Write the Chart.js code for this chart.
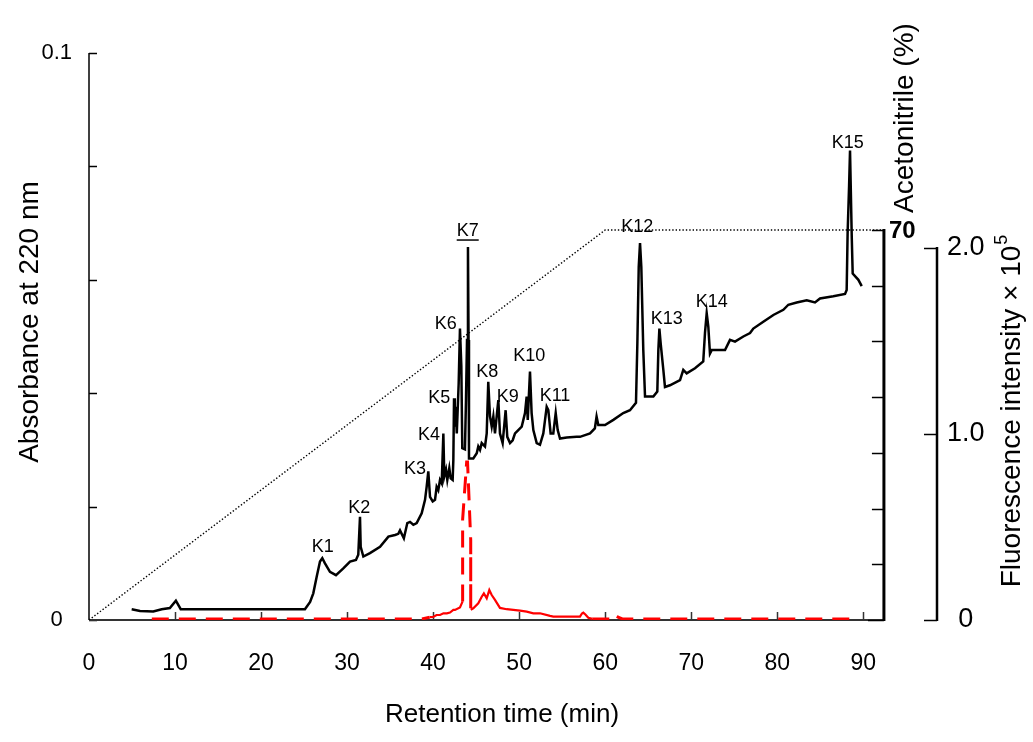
<!DOCTYPE html>
<html>
<head>
<meta charset="utf-8">
<script src="https://cdn.jsdelivr.net/npm/chart.js@4.4.0/dist/chart.umd.min.js"></script>
<style>
  html, body { margin: 0; padding: 0; background: #ffffff; }
  #wrap { width: 1033px; height: 742px; }
</style>
</head>
<body>
<div id="wrap"><canvas id="c" width="1033" height="742"></canvas></div>
<script>
// ---------- DATA ----------
// Absorbance at 220 nm (black trace)
const absTime = [4.96,5.93,7.47,8.45,9.4,10.1,10.66,25.1,25.7,26.07,26.46,26.85,27.12,27.43,28.01,28.71,29.56,30.34,31.03,31.3,31.5,31.58,31.89,32.66,33.83,34.8,35.57,35.95,36.15,36.6,37.0,37.31,37.7,38.09,38.67,39.06,39.25,39.44,39.64,39.95,40.22,40.41,40.6,40.8,41.0,41.19,41.3,41.5,41.65,41.88,42.04,42.27,42.35,42.43,42.52,42.62,42.75,42.97,43.12,43.28,43.39,43.7,43.82,43.94,44.05,44.12,44.17,44.67,45.07,45.25,45.45,45.65,46.03,46.23,46.41,46.61,46.81,47.0,47.19,47.39,47.58,47.77,48.08,48.43,48.62,48.94,49.25,49.52,49.9,50.3,50.68,50.87,51.0,51.26,51.45,51.65,52.04,52.42,52.81,53.2,53.39,53.66,53.97,54.25,54.48,54.75,55.53,56.68,57.07,58.24,58.8,59.0,59.2,59.98,60.95,62.1,62.88,63.58,63.74,63.9,64.05,64.2,64.43,64.63,65.6,66.06,66.18,66.3,66.45,66.76,66.95,67.53,68.7,69.08,69.47,70.44,71.4,71.6,71.8,71.99,72.18,72.38,73.93,74.51,75.09,76.06,76.84,77.22,78.38,79.55,80.71,81.29,82.26,83.43,84.39,84.97,86.52,87.88,88.07,88.18,88.35,88.46,88.66,88.77,89.43,89.82];
const absValue = [0.0019,0.0016,0.0015,0.0019,0.0021,0.0034,0.0019,0.0019,0.0032,0.0047,0.0076,0.0103,0.0109,0.0100,0.0085,0.0079,0.0091,0.0103,0.0106,0.0115,0.0182,0.0129,0.0112,0.0118,0.0129,0.0147,0.0150,0.0152,0.0158,0.0144,0.0171,0.0173,0.0168,0.0171,0.0188,0.0212,0.0235,0.0262,0.0217,0.0209,0.0212,0.0235,0.0229,0.0247,0.0241,0.0329,0.0253,0.0265,0.0247,0.0268,0.0250,0.0247,0.0282,0.0391,0.0341,0.0376,0.0329,0.0417,0.0514,0.0447,0.0303,0.0301,0.0388,0.0494,0.0658,0.0494,0.0285,0.0285,0.0294,0.0306,0.0300,0.0312,0.0306,0.0329,0.0420,0.0359,0.0341,0.0359,0.0329,0.0359,0.0388,0.0329,0.0312,0.0370,0.0323,0.0312,0.0317,0.0329,0.0335,0.0341,0.0365,0.0394,0.0353,0.0438,0.0365,0.0335,0.0312,0.0309,0.0329,0.0376,0.0370,0.0329,0.0329,0.0365,0.0335,0.0320,0.0322,0.0323,0.0323,0.0329,0.0338,0.0359,0.0344,0.0344,0.0353,0.0365,0.0370,0.0383,0.0488,0.0623,0.0665,0.0623,0.0476,0.0394,0.0394,0.0403,0.0476,0.0514,0.0488,0.0441,0.0411,0.0414,0.0423,0.0441,0.0435,0.0444,0.0456,0.0506,0.0541,0.0517,0.0470,0.0476,0.0476,0.0494,0.0491,0.0500,0.0506,0.0514,0.0526,0.0538,0.0547,0.0556,0.0560,0.0564,0.0560,0.0567,0.0571,0.0575,0.0582,0.0682,0.0765,0.0828,0.0676,0.0611,0.0600,0.0589];

// Fluorescence intensity x 10^5 (red trace)
const flTime = [7.3,38.7,39.6,40.0,40.4,40.8,41.2,41.6,41.96,42.35,42.54,43.12,43.43,43.43,43.9,44.0,44.37,44.37,44.67,45.25,45.65,45.9,46.23,46.53,46.81,47.19,47.77,48.55,50.1,50.88,51.65,52.42,53.59,53.97,57.07,57.3,57.46,57.7,58.04,58.5,60.8,61.14,61.5,62.0,89.4];
const flValue = [0.006,0.006,0.015,0.016,0.027,0.027,0.036,0.036,0.040,0.054,0.054,0.068,0.10,0.54,0.85,0.85,0.43,0.055,0.063,0.090,0.125,0.143,0.117,0.161,0.134,0.108,0.065,0.058,0.050,0.045,0.036,0.036,0.022,0.018,0.018,0.035,0.040,0.030,0.012,0.006,0.006,0.027,0.015,0.006,0.006];

// Acetonitrile gradient (%) (dotted)
const acnTime = [0, 60, 92.4];
const acnValue = [0, 70, 70];

// Peak names
const peakNames = ['K1','K2','K3','K4','K5','K6','K7','K8','K9','K10','K11','K12','K13','K14','K15'];

// Tick labels
const absTickLabels = ['0', '0.1'];
const flTickLabels = ['0', '1.0', '2.0'];
const acnTickLabel = '70';

// ---------- LAYOUT / STYLE (not data) ----------
const FONT = '"Liberation Sans", Arial, Helvetica, sans-serif';
const acnAxisAt = 92.4;           // retention-time position of the acetonitrile axis
const labelAnchors = [            // label centres in data units (time, absorbance)
  [27.17,0.0129],[31.42,0.0198],[37.89,0.0266],[39.52,0.0326],[40.72,0.0391],
  [41.46,0.0522],[44.02,0.0686],[46.30,0.0437],[48.67,0.0394],[51.18,0.0466],
  [54.17,0.0395],[63.73,0.0693],[67.15,0.0530],[72.38,0.0561],[88.20,0.0842]
];

const pts = (xs, ys) => xs.map((x, i) => ({x: x, y: ys[i]}));

function isRedDashed(ctx) {
  const a = ctx.p0.parsed.x, b = ctx.p1.parsed.x;
  return a < 39 || a >= 58.2 || (a >= 43.43 && b <= 44.37);
}

const decoPlugin = {
  id: 'deco',
  beforeDatasetsDraw(chart) {
    const {ctx, chartArea: ca, scales} = chart;
    const x = scales.x, yAbs = scales.yAbs, yFl = scales.yFl, yAcn = scales.yAcn;
    const L = (x1, y1, x2, y2) => { ctx.beginPath(); ctx.moveTo(x1, y1); ctx.lineTo(x2, y2); ctx.stroke(); };
    ctx.save();
    ctx.lineCap = 'butt';
    // left axis
    ctx.strokeStyle = '#000'; ctx.lineWidth = 1.5;
    L(ca.left, ca.top, ca.left, ca.bottom);
    yAbs.ticks.forEach(t => { const py = Math.round(yAbs.getPixelForValue(t.value)) + 0.5; L(ca.left, py, ca.left + 8, py); });
    // x axis
    const xAcn = x.getPixelForValue(acnAxisAt);
    ctx.strokeStyle = '#333'; ctx.lineWidth = 2;
    L(ca.left, ca.bottom, xAcn, ca.bottom);
    ctx.lineWidth = 1.5;
    x.ticks.forEach(t => { if (t.value > 0 && t.value <= 90) { const px = Math.round(x.getPixelForValue(t.value)) + 0.5; L(px, ca.bottom, px, ca.bottom - 8); } });
    // acetonitrile axis
    ctx.strokeStyle = '#000'; ctx.lineWidth = 3;
    L(xAcn, yAcn.getPixelForValue(70) - 1, xAcn, ca.bottom + 1);
    ctx.lineWidth = 1.5;
    for (let v = 0; v <= 70; v += 10) { const py = Math.round(yAcn.getPixelForValue(v)) + 0.5; L(xAcn - (v === 0 ? 16 : 12), py, xAcn, py); }
    // fluorescence axis
    ctx.lineWidth = 2.5;
    L(ca.right, yFl.getPixelForValue(2) - 1, ca.right, ca.bottom + 1);
    ctx.lineWidth = 1.5;
    [0, 1, 2].forEach(v => { const py = Math.round(yFl.getPixelForValue(v)) + 0.5; L(ca.right - 13, py, ca.right, py); });
    ctx.restore();
  },
  afterDraw(chart) {
    const {ctx, scales} = chart;
    const x = scales.x, yAbs = scales.yAbs, yAcn = scales.yAcn;
    ctx.save();
    ctx.fillStyle = '#000';
    ctx.strokeStyle = '#000';
    ctx.textBaseline = 'middle';
    // "70" label on acetonitrile axis
    ctx.font = 'bold 24px ' + FONT;
    ctx.textAlign = 'left';
    ctx.fillText(acnTickLabel, x.getPixelForValue(acnAxisAt) + 5, yAcn.getPixelForValue(70) + 1);
    // x title
    ctx.font = '26px ' + FONT;
    ctx.textAlign = 'center';
    ctx.fillText('Retention time (min)', 502, 715);
    // left title
    ctx.save();
    ctx.translate(30, 322); ctx.rotate(-Math.PI / 2);
    ctx.font = '28px ' + FONT; ctx.textAlign = 'center';
    ctx.fillText('Absorbance at 220 nm', 0, 0);
    ctx.restore();
    // acetonitrile title
    ctx.save();
    ctx.translate(905, 118); ctx.rotate(-Math.PI / 2);
    ctx.font = '28px ' + FONT; ctx.textAlign = 'center';
    ctx.fillText('Acetonitrile (%)', 0, 0);
    ctx.restore();
    // fluorescence title with superscript
    ctx.save();
    ctx.translate(1012, 411); ctx.rotate(-Math.PI / 2);
    ctx.font = '28px ' + FONT; ctx.textAlign = 'left';
    const main = 'Fluorescence intensity \u00d7 10';
    const w1 = ctx.measureText(main).width;
    ctx.font = '18px ' + FONT;
    const w2 = ctx.measureText('5').width;
    const start = -(w1 + w2 + 1) / 2;
    ctx.font = '28px ' + FONT;
    ctx.fillText(main, start, 0);
    ctx.font = '18px ' + FONT;
    ctx.fillText('5', start + w1 + 1, -10);
    ctx.restore();
    // peak labels
    ctx.font = '18px ' + FONT;
    ctx.textAlign = 'center';
    peakNames.forEach((n, i) => {
      const px = x.getPixelForValue(labelAnchors[i][0]);
      const py = yAbs.getPixelForValue(labelAnchors[i][1]);
      ctx.fillText(n, px, py);
      if (n === 'K7') {
        const w = ctx.measureText(n).width;
        ctx.lineWidth = 1.5;
        ctx.beginPath(); ctx.moveTo(px - w / 2, py + 9); ctx.lineTo(px + w / 2, py + 9); ctx.stroke();
      }
    });
    ctx.restore();
  }
};

const near = (a, b) => Math.abs(a - b) < 1e-9;

new Chart(document.getElementById('c'), {
  type: 'scatter',
  data: {
    datasets: [
      {
        label: 'Absorbance at 220 nm',
        data: pts(absTime, absValue),
        yAxisID: 'yAbs',
        showLine: true,
        borderColor: '#000000',
        borderWidth: 2.5,
        pointRadius: 0,
        tension: 0,
        order: 0
      },
      {
        label: 'Fluorescence intensity',
        data: pts(flTime, flValue),
        yAxisID: 'yFl',
        showLine: true,
        borderColor: '#ff0000',
        borderWidth: 3,
        pointRadius: 0,
        tension: 0,
        order: 1,
        segment: {
          borderDash: ctx => isRedDashed(ctx) ? [17, 10] : [],
          borderWidth: ctx => isRedDashed(ctx) ? 3 : 2.2
        }
      },
      {
        label: 'Acetonitrile (%)',
        data: pts(acnTime, acnValue),
        yAxisID: 'yAcn',
        showLine: true,
        borderColor: '#000000',
        borderWidth: 1.4,
        borderDash: [1.4, 2],
        pointRadius: 0,
        tension: 0,
        order: 2
      }
    ]
  },
  options: {
    responsive: false,
    animation: false,
    events: [],
    layout: { padding: { top: 53, left: 0, right: 0, bottom: 0 } },
    plugins: { legend: { display: false }, tooltip: { enabled: false }, title: { display: false } },
    scales: {
      x: {
        type: 'linear',
        position: 'bottom',
        min: 0,
        max: 98.57,
        grid: { display: false, drawTicks: false },
        border: { display: false },
        ticks: {
          stepSize: 10,
          includeBounds: false,
          autoSkip: false,
          maxRotation: 0,
          padding: 30,
          color: '#000',
          font: { family: FONT, size: 23 },
          callback: v => (v <= 90 && near(v % 10, 0)) ? String(v) : ''
        },
        afterFit: s => { s.height = 122; }
      },
      yAbs: {
        type: 'linear',
        position: 'left',
        min: 0,
        max: 0.1,
        grid: { display: false, drawTicks: false },
        border: { display: false },
        ticks: {
          stepSize: 0.02,
          includeBounds: false,
          autoSkip: false,
          crossAlign: 'center',
          padding: 17,
          color: '#000',
          font: { family: FONT, size: 22 },
          callback: v => near(v, 0) ? absTickLabels[0] : (near(v, 0.1) ? absTickLabels[1] : '')
        },
        afterFit: s => { s.width = 89; }
      },
      yFl: {
        type: 'linear',
        position: 'right',
        min: 0,
        max: 3.048,
        grid: { display: false, drawTicks: false },
        border: { display: false },
        ticks: {
          stepSize: 1,
          includeBounds: false,
          autoSkip: false,
          crossAlign: 'center',
          padding: 10,
          color: '#000',
          font: { family: FONT, size: 27 },
          callback: v => near(v, 0) ? flTickLabels[0] : (near(v, 1) ? flTickLabels[1] : (near(v, 2) ? flTickLabels[2] : ''))
        },
        afterFit: s => { s.width = 96; }
      },
      yAcn: {
        type: 'linear',
        display: false,
        min: 0,
        max: 101.77
      }
    }
  },
  plugins: [decoPlugin]
});
</script>
</body>
</html>
